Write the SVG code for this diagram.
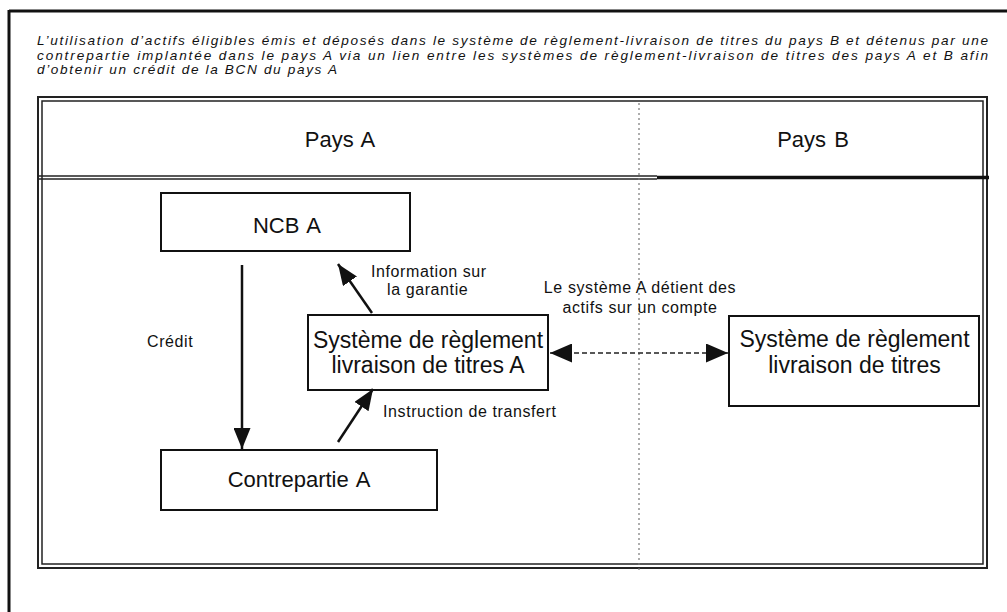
<svg xmlns="http://www.w3.org/2000/svg" width="1007" height="612" viewBox="0 0 1007 612">
<style>
  .t { font-family: "Liberation Sans", Arial, sans-serif; fill: #111; }
  .title { font-size: 13.6px; font-style: italic; }
  .hdr { font-size: 22px; word-spacing: 2px; }
  .node { font-size: 22px; word-spacing: 2px; }
  .big { font-size: 23px; }
  .lbl { font-size: 16px; letter-spacing: 0.6px; }
  .box { fill: #fff; stroke: #111; stroke-width: 2; }
  .frame { fill: none; stroke: #222; }
  .conn { stroke: #111; stroke-width: 2.5; fill: none; }
</style>
<defs>
  <marker id="ah" viewBox="0 0 21 17" refX="21" refY="8.5" markerWidth="21" markerHeight="17" markerUnits="userSpaceOnUse" orient="auto">
    <path d="M0,0 L21,8.5 L0,17 Z" fill="#111"/>
  </marker>
  <marker id="ahd" viewBox="0 0 22 19" refX="22" refY="9.5" markerWidth="22" markerHeight="19" markerUnits="userSpaceOnUse" orient="auto">
    <path d="M0,0 L22,9.5 L0,19 Z" fill="#111"/>
  </marker>
  <marker id="ahds" viewBox="0 0 22 19" refX="0" refY="9.5" markerWidth="22" markerHeight="19" markerUnits="userSpaceOnUse" orient="auto">
    <path d="M22,0 L0,9.5 L22,19 Z" fill="#111"/>
  </marker>
</defs>
<rect x="0" y="0" width="1007" height="612" fill="#fff"/>

<g id="outer-frame">
  <line x1="9" y1="11" x2="1007" y2="11" stroke="#111" stroke-width="3"/>
  <line x1="9" y1="10" x2="9" y2="612" stroke="#111" stroke-width="3"/>
</g>

<g id="title" class="t title">
  <text x="37" y="45" textLength="951" lengthAdjust="spacing">L’utilisation d’actifs éligibles émis et déposés dans le système de règlement-livraison de titres du pays B et détenus par une</text>
  <text x="37" y="59.5" textLength="951" lengthAdjust="spacing">contrepartie implantée dans le pays A via un lien entre les systèmes de règlement-livraison de titres des pays A et B afin</text>
  <text x="37" y="74" textLength="300" lengthAdjust="spacing">d’obtenir un crédit de la BCN du pays A</text>
</g>

<g id="inner-frame">
  <rect class="frame" x="38" y="97" width="949" height="471" stroke-width="2"/>
  <rect class="frame" x="42" y="101" width="941" height="463" stroke-width="1.5"/>
  <line x1="38" y1="176" x2="657" y2="176" stroke="#222" stroke-width="1.5"/>
  <line x1="38" y1="179" x2="657" y2="179" stroke="#222" stroke-width="1.5"/>
  <line x1="657" y1="177.5" x2="989" y2="177.5" stroke="#111" stroke-width="3.5"/>
  <line x1="639" y1="103" x2="639" y2="572" stroke="#777" stroke-width="1.2" stroke-dasharray="2,3"/>
</g>

<g id="header-a" class="t hdr"><text x="340" y="147" text-anchor="middle">Pays A</text></g>
<g id="header-b" class="t hdr"><text x="813" y="147" text-anchor="middle">Pays B</text></g>

<g id="ncb-a">
  <rect class="box" x="161" y="193" width="249" height="58"/>
  <text class="t node" x="287" y="233" text-anchor="middle">NCB A</text>
</g>

<g id="systeme-a">
  <rect class="box" x="308" y="315" width="240" height="75"/>
  <text class="t big" x="428" y="348" text-anchor="middle">Système de règlement</text>
  <text class="t big" x="428" y="373" text-anchor="middle">livraison de titres A</text>
</g>

<g id="systeme-b">
  <rect class="box" x="729" y="316" width="250" height="90"/>
  <text class="t big" x="854.5" y="347" text-anchor="middle">Système de règlement</text>
  <text class="t big" x="854.5" y="373" text-anchor="middle">livraison de titres</text>
</g>

<g id="contrepartie-a">
  <rect class="box" x="161" y="450" width="276" height="60"/>
  <text class="t node" x="299" y="487" text-anchor="middle">Contrepartie A</text>
</g>

<g id="connectors">
  <line class="conn" x1="242" y1="265" x2="242" y2="449" marker-end="url(#ah)"/>
  <line class="conn" x1="372" y1="313" x2="338" y2="264" marker-end="url(#ah)"/>
  <line class="conn" x1="338" y1="442" x2="373" y2="389" marker-end="url(#ah)"/>
  <line x1="550" y1="353" x2="728" y2="353" stroke="#222" stroke-width="1.5" stroke-dasharray="5,3" marker-start="url(#ahds)" marker-end="url(#ahd)"/>
</g>

<g id="labels" class="t lbl">
  <text x="147" y="347">Crédit</text>
  <text x="371" y="277">Information sur</text>
  <text x="387" y="295">la garantie</text>
  <text x="383" y="417">Instruction de transfert</text>
  <text x="640" y="293" text-anchor="middle">Le système A détient des</text>
  <text x="640" y="313" text-anchor="middle">actifs sur un compte</text>
</g>
</svg>
